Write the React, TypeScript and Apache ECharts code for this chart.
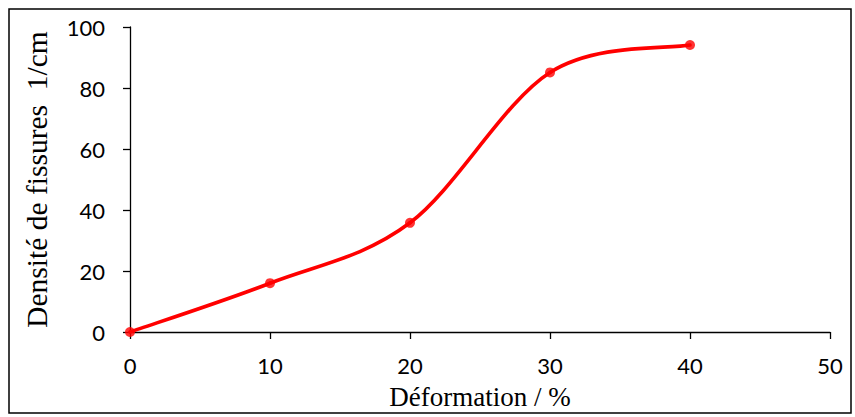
import React, { useEffect, useRef } from "react";
import * as echarts from "echarts";

const xValues = [0, 10, 20, 30, 40];
const yValues = [0, 16, 35.8, 85.1, 94.1];
const xTitle = "Déformation / %";
const yTitle = "Densité de fissures  1/cm";

export default function App() {
  const ref = useRef<HTMLDivElement>(null);
  useEffect(() => {
    document.body.style.margin = "0";
    const chart = echarts.init(ref.current!, null, { renderer: "svg" });
    const data = xValues.map((x, i) => [x, yValues[i]]);
    const n = data.length;
    chart.setOption({
      animation: false,
      backgroundColor: "#ffffff",
      grid: { left: 130, right: 25, top: 27, bottom: 85, containLabel: false, outerBoundsMode: "none" },
      xAxis: {
        type: "value",
        min: 0,
        max: 50,
        interval: 10,
        splitLine: { show: false },
        axisLine: { lineStyle: { color: "#000", width: 1.3 } },
        axisTick: { show: true, length: 7, inside: false, lineStyle: { color: "#000", width: 1.3 } },
        axisLabel: { color: "#000", fontFamily: "Lato", fontSize: 22, margin: 22 },
        name: xTitle,
        nameLocation: "middle",
        nameGap: 51,
        nameTextStyle: { color: "#000", fontFamily: "Liberation Serif", fontSize: 27 },
      },
      yAxis: {
        type: "value",
        min: 0,
        max: 100,
        interval: 20,
        splitLine: { show: false },
        axisLine: { show: true, lineStyle: { color: "#000", width: 1.3 } },
        axisTick: { show: true, length: 7, inside: false, lineStyle: { color: "#000", width: 1.3 } },
        axisLabel: { color: "#000", fontFamily: "Lato", fontSize: 22, margin: 25 },
        name: yTitle,
        nameLocation: "middle",
        nameGap: 78,
        nameRotate: 90,
        nameTextStyle: { color: "#000", fontFamily: "Liberation Serif", fontSize: 29.5 },
      },
      series: [
        {
          type: "custom",
          data,
          encode: { x: 0, y: 1 },
          renderItem: (params: any, api: any) => {
            const i = params.dataIndex;
            if (i >= n - 1) return { type: "group", children: [] };
            const P = (k: number) => {
              const kk = Math.max(0, Math.min(n - 1, k));
              return api.coord(data[kk]);
            };
            const p0 = P(i - 1), p1 = P(i), p2 = P(i + 1), p3 = P(i + 2);
            const c1 = [p1[0] + (p2[0] - p0[0]) / 6, p1[1] + (p2[1] - p0[1]) / 6];
            const c2 = [p2[0] - (p3[0] - p1[0]) / 6, p2[1] - (p3[1] - p1[1]) / 6];
            return {
              type: "bezierCurve",
              shape: {
                x1: p1[0], y1: p1[1],
                cpx1: c1[0], cpy1: c1[1],
                cpx2: c2[0], cpy2: c2[1],
                x2: p2[0], y2: p2[1],
              },
              style: { stroke: "#ff0000", lineWidth: 3.6, fill: "none", lineCap: "round" },
            };
          },
          z: 2,
        },
        {
          type: "scatter",
          data,
          symbol: "circle",
          symbolSize: 10,
          itemStyle: { color: "#ff0000" },
          z: 3,
        },
      ],
      graphic: [
        {
          type: "rect",
          shape: { x: 9, y: 9, width: 842, height: 404 },
          style: { fill: "none", stroke: "#000", lineWidth: 1.5 },
          silent: true,
        },
      ],
    });
    return () => chart.dispose();
  }, []);
  return <div ref={ref} style={{ width: 855, height: 417 }} />;
}
